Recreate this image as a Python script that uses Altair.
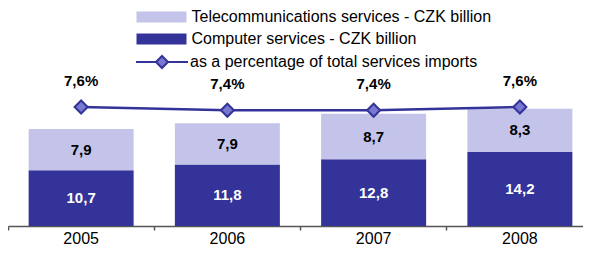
import altair as alt
import pandas as pd

years = ["2005", "2006", "2007", "2008"]
computer = [10.7, 11.8, 12.8, 14.2]
telecom = [7.9, 7.9, 8.7, 8.3]
pct = [7.6, 7.4, 7.4, 7.6]

S_TEL = "Telecommunications services - CZK billion"
S_COMP = "Computer services - CZK billion"
S_PCT = "as a percentage of total services imports"

FONT = "Liberation Sans"
DARK = "#333399"
LIGHT = "#C4C4EA"

def fmt(v):
    return f"{v:.1f}".replace(".", ",")

rows = []
for y, c, t in zip(years, computer, telecom):
    rows.append({"year": y, "series": S_COMP, "value": c, "ord": 0, "label": fmt(c)})
    rows.append({"year": y, "series": S_TEL, "value": t, "ord": 1, "label": fmt(t)})
bars_df = pd.DataFrame(rows)

pct_df = pd.DataFrame({"year": years, "pct": pct,
                       "label": [fmt(p) + "%" for p in pct], "series": [S_PCT] * 4})

xenc = alt.X("year:N", title=None,
             scale=alt.Scale(paddingInner=0, paddingOuter=0, range=[0, 585]),
             axis=alt.Axis(bandPosition=0, labelAngle=0, labelFont=FONT, labelFontSize=16,
                           labelColor="#000000", domainColor="#555555", tickColor="#555555",
                           domainWidth=1.5, tickWidth=1.5, tickSize=4, labelPadding=0,
                           grid=False))

yleft = alt.Scale(domain=[0, 41.8], nice=False, zero=True)
yright = alt.Scale(domain=[0.1625, 13.7875], nice=False, zero=False)

bars = alt.Chart(bars_df).mark_bar(size=105).encode(
    x=xenc,
    y=alt.Y("value:Q", stack="zero", scale=yleft, axis=None),
    order=alt.Order("ord:Q"),
    color=alt.Color("series:N",
                    scale=alt.Scale(domain=[S_TEL, S_COMP], range=[LIGHT, DARK]),
                    legend=alt.Legend(title=None, orient="none", legendX=145.5, legendY=1,
                                      symbolType="M-4.545,-1H4.545V1H-4.545Z",
                                      symbolSize=121, symbolStrokeWidth=0,
                                      labelFont=FONT, labelFontSize=16, labelColor="#000000",
                                      labelOffset=22, rowPadding=6, padding=0,
                                      labelLimit=500)),
)

bar_text = alt.Chart(bars_df).transform_stack(
    stack="value", groupby=["year"], as_=["y0", "y1"], sort=[alt.SortField("ord")]
).transform_calculate(mid="(datum.y0 + datum.y1) / 2").mark_text(
    font=FONT, fontSize=15, fontWeight="bold"
).encode(
    x=alt.X("year:N"),
    y=alt.Y("mid:Q", scale=yleft, axis=None),
    text="label:N",
    color=alt.condition(alt.datum.ord == 0, alt.value("#FFFFFF"), alt.value("#000000")),
)

left = alt.layer(bars, bar_text)

line = alt.Chart(pct_df).mark_line(strokeWidth=2.5).encode(
    x=alt.X("year:N"),
    y=alt.Y("pct:Q", scale=yright, axis=None),
    stroke=alt.Stroke("series:N", scale=alt.Scale(domain=[S_PCT], range=[DARK]),
                      legend=alt.Legend(title=None, orient="none", legendX=146, legendY=46,
                                        symbolType="M-4.33,0H-1M1,0H4.33M0,-1L1,0L0,1L-1,0Z",
                                        symbolSize=144, symbolStrokeWidth=2,
                                        symbolFillColor="#7878D0", symbolStrokeColor=DARK,
                                        labelFont=FONT, labelFontSize=16, labelColor="#000000",
                                        labelOffset=20, padding=0, labelLimit=500)),
)

points = alt.Chart(pct_df).mark_point(shape="diamond", size=170, filled=True,
                                      fill="#7878D0", stroke=DARK, strokeWidth=2,
                                      opacity=1).encode(
    x=alt.X("year:N"),
    y=alt.Y("pct:Q", scale=yright, axis=None),
)

pct_text = alt.Chart(pct_df).mark_text(font=FONT, fontSize=15, fontWeight="bold",
                                       dy=-26, color="#000000").encode(
    x=alt.X("year:N"),
    y=alt.Y("pct:Q", scale=yright, axis=None),
    text="label:N",
)

right = alt.layer(line, points, pct_text)

chart = alt.layer(left, right).resolve_scale(y="independent").properties(
    width=575, height=218,
    autosize=alt.AutoSizeParams(type="none"),
    padding={"left": 0, "top": 0, "right": 0, "bottom": 24},
    background="#FFFFFF",
).configure_view(stroke=None)

chart.save("out.html", embed_options={"renderer": "svg", "actions": False})
